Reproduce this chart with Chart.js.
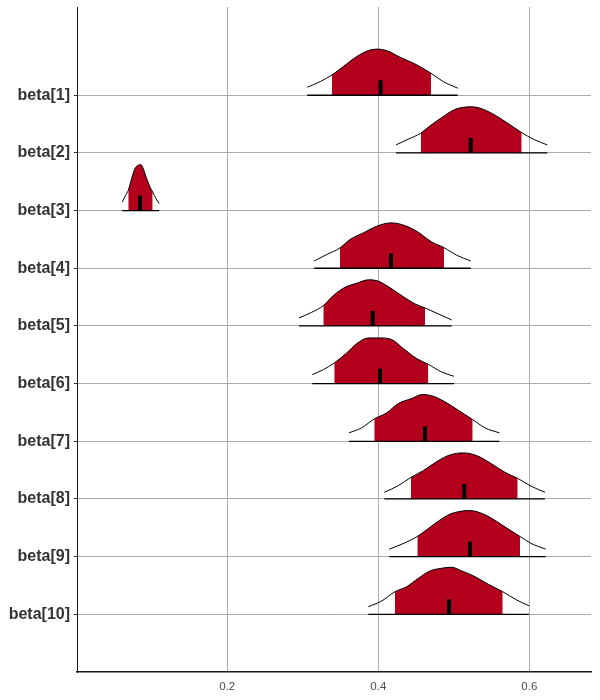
<!DOCTYPE html>
<html>
<head>
<meta charset="utf-8">
<script src="https://cdn.jsdelivr.net/npm/chart.js@4.4.1/dist/chart.umd.min.js"></script>
<style>
  html, body { margin: 0; padding: 0; background: #ffffff; }
  #wrap { width: 600px; height: 700px; }
</style>
</head>
<body>
<div id="wrap"><canvas id="c" width="600" height="700"></canvas></div>
<script>
// ---- data ----
const params = ['beta[1]','beta[2]','beta[3]','beta[4]','beta[5]','beta[6]','beta[7]','beta[8]','beta[9]','beta[10]'];
const medians   = [0.403, 0.5224, 0.0844, 0.4168, 0.3926, 0.4023, 0.4619, 0.5139, 0.5215, 0.4937];
const innerLow  = [0.3387, 0.4562, 0.0689, 0.3493, 0.3272, 0.3417, 0.3947, 0.4433, 0.4517, 0.4221];
const innerHigh = [0.4698, 0.5899, 0.1012, 0.4870, 0.4619, 0.4662, 0.5250, 0.5846, 0.5877, 0.5648];

const beta1X  = [0.306,0.323,0.3387,0.3536,0.3713,0.3868,0.4,0.4111,0.4287,0.4486,0.4698,0.4861,0.5052];
const beta1H  = [0.139,0.236,0.352,0.497,0.67,0.774,0.80,0.774,0.66,0.543,0.382,0.236,0.122];
const beta2X  = [0.4234,0.4397,0.4562,0.4685,0.484,0.4993,0.5105,0.5237,0.5347,0.5523,0.5701,0.5899,0.6053,0.6238];
const beta2H  = [0.139,0.238,0.342,0.469,0.613,0.741,0.787,0.80,0.776,0.672,0.526,0.352,0.238,0.139];
const beta3X  = [0.0609,0.0654,0.0689,0.0734,0.0777,0.0821,0.0853,0.0887,0.0932,0.0976,0.1012,0.1056,0.1099];
const beta3H  = [0.149,0.266,0.352,0.556,0.729,0.786,0.799,0.729,0.556,0.41,0.323,0.208,0.122];
const beta4X  = [0.3152,0.3317,0.3493,0.3625,0.3801,0.3979,0.4168,0.431,0.4509,0.4707,0.487,0.5038,0.5224];
const beta4H  = [0.127,0.238,0.353,0.498,0.613,0.729,0.787,0.758,0.642,0.457,0.359,0.226,0.127];
const beta5X  = [0.295,0.3118,0.3272,0.3404,0.3559,0.3714,0.3868,0.3979,0.4132,0.431,0.4486,0.4619,0.4795,0.4972];
const beta5H  = [0.139,0.236,0.352,0.526,0.67,0.74,0.799,0.786,0.682,0.526,0.382,0.312,0.208,0.104];
const beta6X  = [0.3126,0.3272,0.3417,0.3581,0.3714,0.3868,0.4023,0.4177,0.4331,0.4509,0.4662,0.484,0.5003];
const beta6H  = [0.156,0.243,0.358,0.531,0.694,0.792,0.792,0.764,0.608,0.434,0.335,0.201,0.127];
const beta7X  = [0.3612,0.378,0.3947,0.4111,0.4265,0.4442,0.4583,0.4728,0.4883,0.506,0.525,0.5413,0.5603];
const beta7H  = [0.146,0.233,0.389,0.493,0.655,0.741,0.811,0.781,0.684,0.538,0.377,0.233,0.146];
const beta8X  = [0.408,0.4265,0.4433,0.4596,0.4774,0.495,0.5126,0.5303,0.5502,0.5678,0.5846,0.601,0.6207];
const beta8H  = [0.115,0.231,0.375,0.491,0.648,0.764,0.799,0.752,0.608,0.462,0.358,0.231,0.115];
const beta9X  = [0.4146,0.4354,0.4517,0.4645,0.48,0.4954,0.5065,0.5197,0.5307,0.5483,0.5661,0.5877,0.6023,0.6217];
const beta9H  = [0.13,0.24,0.35,0.47,0.62,0.74,0.78,0.80,0.78,0.68,0.53,0.35,0.23,0.13];
const beta10X = [0.3868,0.4045,0.4221,0.4376,0.453,0.4685,0.484,0.4972,0.5105,0.5281,0.5457,0.5648,0.5833,0.5996];
const beta10H = [0.132,0.231,0.392,0.479,0.625,0.752,0.799,0.816,0.752,0.653,0.521,0.392,0.248,0.149];

const xTicks = [0.2, 0.4, 0.6];

// ---- styling ----
const RED = '#b2001d';
const MEDIAN_H = 0.26;
const curvesX = [beta1X,beta2X,beta3X,beta4X,beta5X,beta6X,beta7X,beta8X,beta9X,beta10X];
const curvesH = [beta1H,beta2H,beta3H,beta4H,beta5H,beta6H,beta7H,beta8H,beta9H,beta10H];

function interp(xs, hs, x) {
  for (let i = 0; i < xs.length - 1; i++) {
    if (x >= xs[i] && x <= xs[i+1]) {
      const t = (x - xs[i]) / (xs[i+1] - xs[i]);
      return hs[i] + t * (hs[i+1] - hs[i]);
    }
  }
  return 0;
}

const datasets = [];
params.forEach((p, i) => {
  const base = params.length - i;
  const xs = curvesX[i], hs = curvesH[i];
  const lo = innerLow[i], hi = innerHigh[i];
  const inner = [{x: lo, y: base + interp(xs, hs, lo)}];
  xs.forEach((x, k) => { if (x > lo + 1e-6 && x < hi - 1e-6) inner.push({x: x, y: base + hs[k]}); });
  inner.push({x: hi, y: base + interp(xs, hs, hi)});
  datasets.push({
    data: inner, fill: {value: base}, backgroundColor: RED, borderWidth: 0,
    borderColor: 'rgba(0,0,0,0)', pointRadius: 0, cubicInterpolationMode: 'monotone', order: 3
  });
  datasets.push({
    data: xs.map((x, k) => ({x: x, y: base + hs[k]})), fill: false, borderColor: '#000',
    borderWidth: 1, pointRadius: 0, cubicInterpolationMode: 'monotone', order: 2
  });
  datasets.push({
    data: [{x: xs[0], y: base}, {x: xs[xs.length-1], y: base}], fill: false,
    borderColor: '#000', borderWidth: 1.3, pointRadius: 0, order: 1
  });
  datasets.push({
    data: [{x: medians[i], y: base}, {x: medians[i], y: base + MEDIAN_H}], fill: false,
    borderColor: '#000', borderWidth: 4, borderCapStyle: 'butt', pointRadius: 0, order: 1
  });
});

new Chart(document.getElementById('c'), {
  type: 'line',
  data: { datasets: datasets },
  options: {
    responsive: false,
    animation: false,
    events: [],
    layout: { padding: { left: 0, right: 9, top: 7, bottom: 0 } },
    plugins: { legend: { display: false }, tooltip: { enabled: false } },
    scales: {
      x: {
        type: 'linear', min: 0.001, max: 0.6817,
        afterBuildTicks: (s) => { s.ticks = xTicks.map(v => ({value: v})); },
        afterFit: (s) => { s.height = 28; s.paddingLeft = 0; s.paddingRight = 0; },
        grid: { color: '#ababab', lineWidth: 1, drawTicks: false },
        border: { display: true, color: '#1a1a1a', width: 1.6 },
        ticks: {
          padding: 8, color: '#4d4d4d', maxRotation: 0,
          font: { family: 'Liberation Sans, Arial, sans-serif', size: 11.5 },
          callback: (v) => v.toFixed(1)
        }
      },
      y: {
        type: 'linear', min: 0, max: 11.53,
        afterBuildTicks: (s) => { s.ticks = params.map((p, i) => ({value: params.length - i})); },
        afterFit: (s) => { s.width = 77; s.paddingTop = 0; s.paddingBottom = 0; },
        grid: { color: '#ababab', lineWidth: 1, drawTicks: true, tickLength: 3, tickColor: '#333' },
        border: { display: true, color: '#1a1a1a', width: 1 },
        ticks: {
          padding: 4, color: '#333333',
          font: { family: 'Liberation Sans, Arial, sans-serif', size: 16, weight: 'bold' },
          callback: (v) => params[params.length - v]
        }
      }
    }
  }
});
</script>
</body>
</html>
